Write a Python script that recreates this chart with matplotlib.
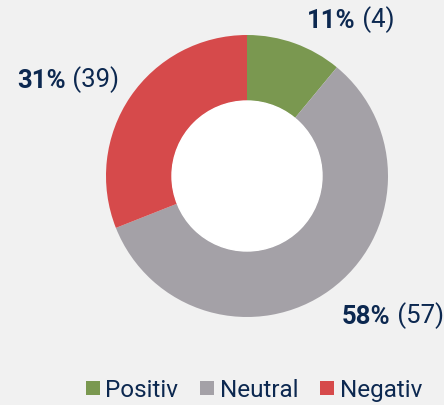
import matplotlib
matplotlib.use("Agg")
import matplotlib.pyplot as plt
from matplotlib.lines import Line2D

categories = ["Positiv", "Neutral", "Negativ"]
percentages = [11, 58, 31]
counts = [4, 57, 39]
colors = ["#7a9850", "#a4a1a7", "#d64a4b"]

TEXT = "#0c2850"
BG = "#f1f1f1"
W, H = 444, 405

plt.rcParams['font.family'] = ['Roboto', 'DejaVu Sans']

fig = plt.figure(figsize=(W / 100, H / 100), dpi=100, facecolor=BG)
ax = fig.add_axes([0, 0, 1, 1])
ax.set_facecolor(BG)

cx, cy, R, r_in = 247, H - 176, 141, 75
wedges, _ = ax.pie(percentages, colors=colors, startangle=90, counterclock=False,
                   center=(cx, cy), radius=R,
                   wedgeprops=dict(width=R - r_in, linewidth=0))
ax.add_patch(plt.Circle((cx, cy), r_in, color='white', zorder=3))
ax.set_xlim(0, W)
ax.set_ylim(0, H)
ax.set_aspect('equal')
ax.axis('off')

fs = 18.5
label_pos = [(307, 28), (342, 324), (17, 88)]
for (x, y), p, c in zip(label_pos, percentages, counts):
    t = ax.text(x, H - y, f"{p}%", fontsize=fs, fontweight='bold', color=TEXT,
                ha='left', va='baseline')
    ax.annotate(f" ({c})", xy=(1, 0), xycoords=t, fontsize=fs, color=TEXT,
                ha='left', va='bottom')

handles = [Line2D([], [], marker='s', linestyle='none', markersize=9.8,
                  markerfacecolor=col, markeredgewidth=0) for col in colors]
leg = fig.legend(handles, categories, loc='lower left', ncol=3,
                 bbox_to_anchor=(86 / W, 3 / H), frameon=False,
                 fontsize=17.5, labelcolor=TEXT, handlelength=0.55,
                 handletextpad=0.25, columnspacing=0.9, borderpad=0,
                 borderaxespad=0)

fig.savefig("out.png", dpi=100, facecolor=BG)
